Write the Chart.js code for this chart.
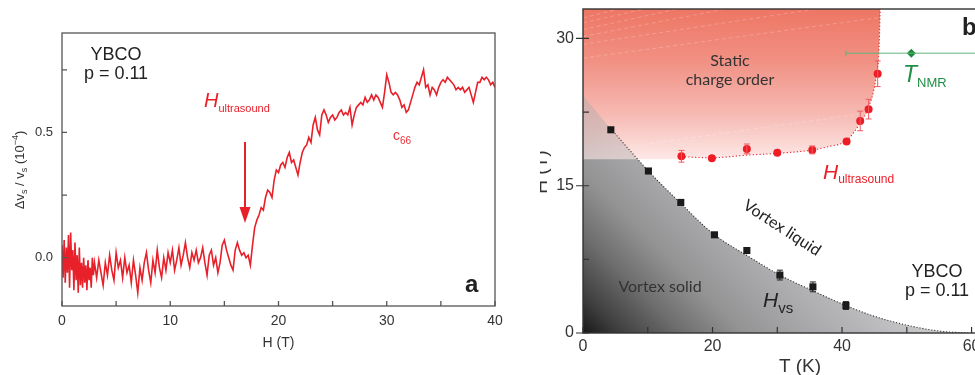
<!DOCTYPE html>
<html>
<head>
<meta charset="utf-8">
<script src="https://cdn.jsdelivr.net/npm/chart.js@4.4.0/dist/chart.umd.min.js"></script>
<style>
  html, body { margin: 0; padding: 0; background: #fff; overflow: hidden; width: 975px; height: 375px; }
  #ca { position: absolute; left: 0; top: 0; }
  #cb { position: absolute; left: 540px; top: 0; }
</style>
</head>
<body>
<canvas id="ca" width="520" height="375"></canvas>
<canvas id="cb" width="470" height="375"></canvas>
<script>
// ---- panel a : sound velocity change vs field (c66 mode) ----
var fieldA = [
  0.0,0.1,0.2,0.3,0.4,0.5,0.6,0.7,0.8,0.9,1.0,1.1,1.2,1.3,1.4,1.5,1.6,1.7,1.8,1.9,2.0,2.1,2.2,2.3,2.4,2.5,2.6,2.7,2.8,2.9,3.0,
  3.2,3.4,3.6,3.8,4.0,4.2,4.4,4.6,4.8,5.0,5.2,5.4,5.6,5.8,6.0,6.2,6.4,6.6,6.8,7.0,7.2,7.4,7.6,7.8,8.0,8.2,8.4,8.6,8.8,9.0,9.2,9.4,9.6,9.8,10.0,
  10.2,10.4,10.6,10.8,11.0,11.2,11.4,11.6,11.8,12.0,12.2,12.4,12.6,12.8,13.0,13.2,13.4,13.6,13.8,14.0,14.2,14.4,14.6,14.8,15.0,15.2,15.4,15.6,15.8,16.0,16.2,16.4,16.6,16.8,17.0,17.2,17.4,17.6,
  17.8,18.0,18.2,18.4,18.6,18.8,19.0,19.2,19.4,19.6,19.8,20.0,20.2,20.4,20.6,20.8,21.0,21.2,21.4,21.6,21.8,22.0,22.2,22.4,22.6,22.8,
  23.0,23.2,23.4,23.6,23.8,24.0,24.2,24.4,24.6,24.8,25.0,25.2,25.4,25.6,25.8,26.0,26.2,26.4,26.6,26.8,27.0,27.2,27.4,27.6,27.8,
  28.0,28.2,28.4,28.6,28.8,29.0,29.2,29.4,29.6,29.8,30.0,30.2,30.4,30.6,30.8,31.0,31.2,31.4,31.6,31.8,32.0,32.2,32.4,32.6,32.8,
  33.0,33.2,33.4,33.6,33.8,34.0,34.2,34.4,34.6,34.8,35.0,35.2,35.4,35.6,35.8,36.0,36.2,36.4,36.6,36.8,37.0,37.2,37.4,37.6,37.8,
  38.0,38.2,38.4,38.6,38.8,39.0,39.2,39.4,39.6,39.8,40.0
];
var soundA = [
  0.05,-0.08,0.07,-0.10,0.04,-0.06,0.09,-0.12,0.10,-0.05,0.03,-0.13,0.06,-0.09,0.01,-0.14,0.04,-0.11,-0.02,-0.12,0.00,-0.10,-0.03,-0.13,-0.01,-0.09,-0.04,-0.12,0.00,-0.07,-0.02,
  -0.08,-0.01,-0.06,-0.11,-0.02,-0.07,0.01,-0.05,-0.09,0.02,-0.04,-0.01,-0.08,0.00,-0.06,-0.03,-0.10,-0.01,-0.07,-0.14,-0.04,-0.09,-0.02,0.02,-0.05,-0.10,-0.01,-0.06,0.03,-0.04,-0.08,0.00,-0.05,0.02,-0.02,
  0.03,-0.05,-0.01,0.04,-0.03,0.01,0.06,0.00,-0.04,0.02,-0.01,0.03,-0.02,0.00,0.04,-0.02,-0.07,0.01,0.03,-0.03,0.00,-0.06,-0.02,0.05,0.07,0.03,0.00,-0.03,-0.05,0.03,0.06,0.03,0.01,0.02,0.00,0.01,-0.03,0.05,
  0.12,0.15,0.17,0.20,0.19,0.24,0.27,0.26,0.24,0.31,0.35,0.34,0.37,0.38,0.36,0.40,0.42,0.38,0.39,0.36,0.33,0.38,0.42,0.44,0.45,0.48,
  0.46,0.53,0.56,0.51,0.49,0.57,0.59,0.57,0.54,0.56,0.57,0.55,0.56,0.58,0.59,0.57,0.58,0.57,0.60,0.53,0.57,0.60,0.61,0.62,0.61,
  0.64,0.62,0.63,0.65,0.63,0.65,0.64,0.62,0.60,0.66,0.73,0.70,0.66,0.65,0.66,0.65,0.63,0.60,0.61,0.58,0.59,0.62,0.65,0.68,0.70,
  0.69,0.72,0.75,0.68,0.69,0.65,0.68,0.67,0.65,0.68,0.70,0.71,0.70,0.72,0.71,0.70,0.69,0.67,0.68,0.67,0.68,0.66,0.67,0.68,0.65,
  0.62,0.66,0.70,0.70,0.72,0.71,0.72,0.71,0.69,0.70,0.68
];
var ticksAx = [0, 5, 10, 15, 20, 25, 30, 35, 40];
var ticksAy = [0, 0.25, 0.5, 0.75];

// ---- panel b : H-T phase diagram ----
var hvsT = [4.3, 10.1, 15.1, 20.3, 25.3, 30.4, 35.5, 40.6];
var hvsH = [20.7, 16.5, 13.3, 10.0, 8.4, 5.9, 4.7, 2.8];
var hvsErr = [0, 0, 0, 0, 0, 0.5, 0.5, 0.4];
var usT = [15.2, 19.9, 25.3, 30.0, 35.4, 40.7, 42.8, 44.1, 45.5];
var usH = [18.0, 17.8, 18.75, 18.35, 18.65, 19.5, 21.6, 22.8, 26.4];
var usErr = [0.6, 0, 0.5, 0, 0.4, 0, 1.0, 1.0, 1.3];
var nmrT = [50.7];
var nmrH = [28.5];
var nmrErrT = [10.1];
var hvsFitT = [0, 4.3, 10.1, 15.1, 20.3, 25.3, 30.4, 35.5, 40.6, 45, 50, 55, 59.6];
var hvsFitH = [24.2, 20.8, 16.5, 13.2, 10.0, 7.9, 5.9, 4.3, 2.8, 1.7, 0.8, 0.2, 0];
var cdoT = [0, 15.0, 15.2, 20, 25, 30, 35, 38, 40.7, 42.7, 44.1, 45.2, 45.7, 45.9];
var cdoH = [17.7, 17.7, 17.95, 17.85, 18.1, 18.3, 18.6, 19.0, 19.6, 21.3, 23.0, 25.8, 28.8, 33];
var ticksBx = [0, 10, 20, 30, 40, 50, 60];
var ticksBy = [0, 7.5, 15, 22.5, 30];

function pts(xs, ys) { return xs.map(function (x, i) { return { x: x, y: ys[i] }; }); }

function runs(ctx, x, y, parts, align) {
  var w = 0;
  parts.forEach(function (p) { ctx.font = p[1]; w += ctx.measureText(p[0]).width; });
  var cx = align === 'center' ? x - w / 2 : (align === 'right' ? x - w : x);
  ctx.textAlign = 'left';
  ctx.textBaseline = 'alphabetic';
  parts.forEach(function (p) {
    ctx.font = p[1];
    if (p[3]) ctx.fillStyle = p[3];
    ctx.fillText(p[0], cx, y + (p[2] || 0));
    cx += ctx.measureText(p[0]).width;
  });
}

// keep the plot area exactly where the layout padding puts it
function noPad(s) { s.paddingTop = 0; s.paddingBottom = 0; s.paddingLeft = 0; s.paddingRight = 0; }

var SANS = "'Liberation Sans', Arial, sans-serif";
var MYR = "Lato, 'Open Sans', sans-serif";

var decorA = {
  id: 'decorA',
  afterDraw: function (chart) {
    var ctx = chart.ctx, ca = chart.chartArea, sx = chart.scales.x, sy = chart.scales.y;
    ctx.save();
    ctx.strokeStyle = '#555';
    ctx.lineWidth = 1.3;
    ctx.strokeRect(ca.left, ca.top, ca.right - ca.left, ca.bottom - ca.top);
    ctx.beginPath();
    ticksAx.forEach(function (v) {
      var p = sx.getPixelForValue(v);
      ctx.moveTo(p, ca.bottom); ctx.lineTo(p, ca.bottom - 5);
    });
    ticksAy.forEach(function (v) {
      var p = sy.getPixelForValue(v);
      ctx.moveTo(ca.left, p); ctx.lineTo(ca.left + 5, p);
    });
    ctx.stroke();

    ctx.fillStyle = '#222';
    runs(ctx, 116, 60, [['YBCO', '18px ' + SANS]], 'center');
    runs(ctx, 116, 79, [['p = 0.11', '18px ' + SANS]], 'center');
    runs(ctx, 204, 107, [['H', 'italic 20px ' + SANS, 0, '#e8202a'], ['ultrasound', '11px ' + SANS, 5]], 'left');
    runs(ctx, 393, 140, [['c', '14px ' + SANS, 0, '#e8303a'], ['66', '10px ' + SANS, 4]], 'left');
    ctx.fillStyle = '#222';
    runs(ctx, 465, 292, [['a', 'bold 24px ' + SANS]], 'left');

    // arrow at H_ultrasound
    ctx.strokeStyle = '#e8202a';
    ctx.fillStyle = '#e8202a';
    ctx.lineWidth = 2;
    ctx.beginPath(); ctx.moveTo(245, 142); ctx.lineTo(245, 212); ctx.stroke();
    ctx.beginPath(); ctx.moveTo(239.5, 207); ctx.lineTo(250.5, 207); ctx.lineTo(245, 223); ctx.closePath(); ctx.fill();

    ctx.fillStyle = '#333';
    runs(ctx, (ca.left + ca.right) / 2, 347, [['H (T)', '14px ' + SANS]], 'center');
    ctx.translate(24, 170);
    ctx.rotate(-Math.PI / 2);
    runs(ctx, 0, 0, [['\u0394v', '13px ' + SANS], ['s', '9px ' + SANS, 3], [' / v', '13px ' + SANS], ['s', '9px ' + SANS, 3],
      [' (10', '13px ' + SANS], ['\u22124', '9px ' + SANS, -6], [')', '13px ' + SANS]], 'center');
    ctx.restore();
  }
};

new Chart(document.getElementById('ca'), {
  type: 'line',
  data: {
    datasets: [{
      data: pts(fieldA, soundA),
      borderColor: '#e8202a',
      borderWidth: 1.6,
      pointRadius: 0,
      tension: 0,
      fill: false
    }]
  },
  options: {
    responsive: false,
    animation: false,
    devicePixelRatio: 1,
    layout: { padding: { left: 0, right: 25, top: 33, bottom: 0 } },
    plugins: { legend: { display: false }, tooltip: { enabled: false } },
    scales: {
      x: {
        type: 'linear', min: 0, max: 40,
        afterBuildTicks: function (s) { s.ticks = ticksAx.map(function (v) { return { value: v }; }); },
        afterFit: function (s) { s.height = 69; noPad(s); },
        grid: { display: false, drawTicks: false },
        border: { display: false },
        ticks: { padding: 7, autoSkip: false, maxRotation: 0, color: '#333', font: { family: SANS, size: 14 },
          callback: function (v) { return v % 10 === 0 ? String(v) : ''; } }
      },
      y: {
        type: 'linear', min: -0.193, max: 0.897,
        afterBuildTicks: function (s) { s.ticks = ticksAy.map(function (v) { return { value: v }; }); },
        afterFit: function (s) { s.width = 62; noPad(s); },
        grid: { display: false, drawTicks: false },
        border: { display: false },
        ticks: { padding: 9, autoSkip: false, color: '#333', font: { family: SANS, size: 13 },
          callback: function (v) { return v === 0 ? '0.0' : (v === 0.5 ? '0.5' : ''); } }
      }
    }
  },
  plugins: [decorA]
});

// gradients for panel b
function grayFill(alpha) {
  return function (c) {
    var ca = c.chart.chartArea;
    if (!ca) return 'rgba(160,160,160,' + alpha + ')';
    var g = c.chart.ctx.createLinearGradient(ca.left, ca.bottom, ca.left + 200, ca.bottom - 200);
    var a = alpha;
    g.addColorStop(0, 'rgba(24,24,24,' + a + ')');
    g.addColorStop(0.1, 'rgba(64,64,64,' + a + ')');
    g.addColorStop(0.25, 'rgba(110,110,110,' + a + ')');
    g.addColorStop(0.4, 'rgba(147,147,148,' + a + ')');
    g.addColorStop(0.55, 'rgba(165,165,167,' + a + ')');
    g.addColorStop(0.8, 'rgba(192,192,194,' + a + ')');
    g.addColorStop(1, 'rgba(218,218,220,' + a + ')');
    return g;
  };
}
function redFill(c) {
  var ca = c.chart.chartArea;
  if (!ca) return '#f4a89e';
  var sy = c.chart.scales.y;
  var g = c.chart.ctx.createLinearGradient(0, ca.top, 0, sy.getPixelForValue(17.7));
  g.addColorStop(0, 'rgb(238,118,100)');
  g.addColorStop(0.35, 'rgb(241,145,132)');
  g.addColorStop(0.7, 'rgb(246,186,179)');
  g.addColorStop(1, 'rgb(253,232,230)');
  return g;
}

// faint white dashed streaks inside the charge-order region: [T0, H0, T1, H1]
var streaks = [[0, 28.0, 45.5, 32.1], [0, 29.4, 35.0, 32.9], [0, 30.2, 22.0, 33], [0, 30.9, 14.5, 33], [0, 31.6, 9.5, 33], [0, 32.1, 5.5, 33], [6, 18.9, 44, 22.4]];

var decorB = {
  id: 'decorB',
  afterDatasetDraw: function (chart, args) {
    if (args.index !== 2) return;
    var ctx = chart.ctx, sx = chart.scales.x, sy = chart.scales.y;
    ctx.save();
    ctx.strokeStyle = 'rgba(255,255,255,0.28)';
    ctx.lineWidth = 0.8;
    ctx.setLineDash([4, 3]);
    ctx.beginPath();
    streaks.forEach(function (s) {
      ctx.moveTo(sx.getPixelForValue(s[0]), sy.getPixelForValue(s[1]));
      ctx.lineTo(sx.getPixelForValue(s[2]), sy.getPixelForValue(s[3]));
    });
    ctx.stroke();
    ctx.restore();
  },
  afterDatasetsDraw: function (chart) {
    var ctx = chart.ctx, sx = chart.scales.x, sy = chart.scales.y;
    ctx.save();
    ctx.lineWidth = 1;
    function vbar(x, y, e, col) {
      if (!e) return;
      var px = sx.getPixelForValue(x), p1 = sy.getPixelForValue(y - e), p2 = sy.getPixelForValue(y + e);
      ctx.strokeStyle = col;
      ctx.beginPath();
      ctx.moveTo(px, p1); ctx.lineTo(px, p2);
      ctx.moveTo(px - 3, p1); ctx.lineTo(px + 3, p1);
      ctx.moveTo(px - 3, p2); ctx.lineTo(px + 3, p2);
      ctx.stroke();
    }
    usT.forEach(function (t, i) { vbar(t, usH[i], usErr[i], '#f05a5f'); });
    hvsT.forEach(function (t, i) { vbar(t, hvsH[i], hvsErr[i], '#222'); });
    nmrT.forEach(function (t, i) {
      var py = sy.getPixelForValue(nmrH[i]);
      var p1 = sx.getPixelForValue(t - nmrErrT[i]), p2 = sx.getPixelForValue(t + nmrErrT[i]);
      ctx.strokeStyle = '#5fb67c';
      ctx.beginPath();
      ctx.moveTo(p1, py); ctx.lineTo(p2, py);
      ctx.moveTo(p1, py - 3); ctx.lineTo(p1, py + 3);
      ctx.moveTo(p2, py - 3); ctx.lineTo(p2, py + 3);
      ctx.stroke();
    });
    ctx.restore();
  },
  afterDraw: function (chart) {
    var ctx = chart.ctx, ca = chart.chartArea, sx = chart.scales.x, sy = chart.scales.y;
    ctx.save();
    ctx.strokeStyle = '#333';
    ctx.lineWidth = 1.4;
    ctx.strokeRect(ca.left, ca.top, ca.right - ca.left, ca.bottom - ca.top);
    ctx.lineWidth = 1.2;
    ctx.beginPath();
    ticksBx.forEach(function (v) {
      var p = sx.getPixelForValue(v);
      ctx.moveTo(p, ca.bottom); ctx.lineTo(p, ca.bottom - 6);
    });
    ticksBy.forEach(function (v) {
      var p = sy.getPixelForValue(v);
      ctx.moveTo(v % 15 === 0 ? ca.left - 7 : ca.left, p); ctx.lineTo(ca.left + 6, p);
    });
    ctx.stroke();

    ctx.fillStyle = '#333';
    runs(ctx, 190, 66, [['Static', '16px ' + MYR]], 'center');
    runs(ctx, 190, 85, [['charge order', '16px ' + MYR]], 'center');
    runs(ctx, 120, 292, [['Vortex solid', '16px ' + MYR]], 'center');
    runs(ctx, 363, 82, [['T', 'italic 23px ' + SANS, 0, '#1f8f45'], ['NMR', '13px ' + SANS, 5]], 'left');
    runs(ctx, 283, 179, [['H', 'italic 21px ' + SANS, 0, '#ee1c25'], ['ultrasound', '12px ' + SANS, 4]], 'left');
    ctx.fillStyle = '#222';
    runs(ctx, 223, 307, [['H', 'italic 21px ' + SANS], ['vs', '15px ' + SANS, 6]], 'left');
    runs(ctx, 397, 277, [['YBCO', '18px ' + SANS]], 'center');
    runs(ctx, 397, 296, [['p = 0.11', '18px ' + SANS]], 'center');
    runs(ctx, 422, 35, [['b', 'bold 24px ' + SANS]], 'left');
    ctx.fillStyle = '#333';
    runs(ctx, 260, 372, [['T (K)', '19px ' + SANS]], 'center');

    ctx.save();
    ctx.translate(242, 228);
    ctx.rotate(33 * Math.PI / 180);
    ctx.fillStyle = '#222';
    runs(ctx, 0, 5, [['Vortex liquid', '16px ' + MYR]], 'center');
    ctx.restore();

    ctx.save();
    ctx.translate(7, 172);
    ctx.rotate(-Math.PI / 2);
    ctx.fillStyle = '#333';
    runs(ctx, 0, 0, [['H (T)', '19px ' + SANS]], 'center');
    ctx.restore();
    ctx.restore();
  }
};

new Chart(document.getElementById('cb'), {
  type: 'line',
  data: {
    datasets: [
      { data: pts(hvsFitT, hvsFitH), fill: 'origin', backgroundColor: grayFill(1), borderWidth: 0, pointRadius: 0,
        cubicInterpolationMode: 'monotone', order: 10 },
      { data: pts(cdoT, cdoH), fill: 'end', backgroundColor: redFill, borderWidth: 0, pointRadius: 0,
        cubicInterpolationMode: 'monotone', order: 9 },
      { data: pts(hvsFitT, hvsFitH), fill: 'origin', backgroundColor: grayFill(0.4), borderWidth: 0, pointRadius: 0,
        cubicInterpolationMode: 'monotone', order: 8 },
      { data: pts(hvsFitT.slice(1), hvsFitH.slice(1)), fill: false, borderColor: '#222', borderWidth: 1.1, borderDash: [1, 2],
        pointRadius: 0, cubicInterpolationMode: 'monotone', order: 5 },
      { data: pts(cdoT.slice(2), cdoH.slice(2)), fill: false, borderColor: '#e8202a', borderWidth: 1.1, borderDash: [1.2, 2.2],
        pointRadius: 0, cubicInterpolationMode: 'monotone', order: 5 },
      { data: pts(hvsT, hvsH), showLine: false, pointStyle: 'rect', pointRadius: 5, pointBackgroundColor: '#1a1a1a',
        pointBorderColor: '#1a1a1a', pointBorderWidth: 0, order: 1 },
      { data: pts(usT, usH), showLine: false, pointStyle: 'circle', pointRadius: 4, pointBackgroundColor: '#ee1c25',
        pointBorderColor: '#ee1c25', pointBorderWidth: 0, order: 1 },
      { data: pts(nmrT, nmrH), showLine: false, pointStyle: 'rectRot', pointRadius: 4.5, pointBackgroundColor: '#1a8a3c',
        pointBorderColor: '#1a8a3c', pointBorderWidth: 0, order: 1 }
    ]
  },
  options: {
    responsive: false,
    animation: false,
    devicePixelRatio: 1,
    layout: { padding: { left: 0, right: 19, top: 9, bottom: 0 } },
    plugins: { legend: { display: false }, tooltip: { enabled: false } },
    scales: {
      x: {
        type: 'linear', min: 0, max: 63,
        afterBuildTicks: function (s) { s.ticks = ticksBx.map(function (v) { return { value: v }; }); },
        afterFit: function (s) { s.height = 42; noPad(s); },
        grid: { display: false, drawTicks: false },
        border: { display: false },
        ticks: { padding: 4, autoSkip: false, maxRotation: 0, color: '#333', font: { family: SANS, size: 16 },
          callback: function (v) { return v % 20 === 0 ? String(v) : ''; } }
      },
      y: {
        type: 'linear', min: 0, max: 33,
        afterBuildTicks: function (s) { s.ticks = ticksBy.map(function (v) { return { value: v }; }); },
        afterFit: function (s) { s.width = 43; noPad(s); },
        grid: { display: false, drawTicks: false },
        border: { display: false },
        ticks: { padding: 9, autoSkip: false, color: '#333', font: { family: SANS, size: 16 },
          callback: function (v) { return v % 15 === 0 ? String(v) : ''; } }
      }
    }
  },
  plugins: [decorB]
});
</script>
</body>
</html>
